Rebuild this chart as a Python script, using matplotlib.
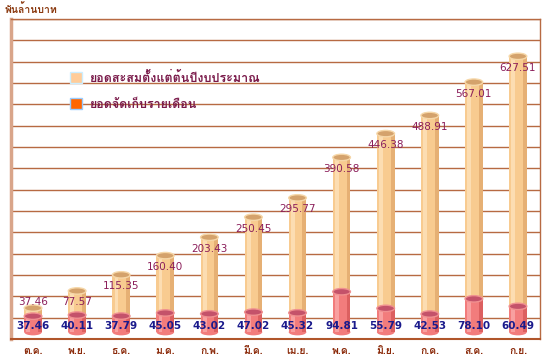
import matplotlib
matplotlib.use("Agg")
import matplotlib.pyplot as plt
from matplotlib.patches import Rectangle, Ellipse, Patch

THAI = ["Loma", "DejaVu Sans"]

months = ["ต.ค.", "พ.ย.", "ธ.ค.", "ม.ค.", "ก.พ.", "มี.ค.",
          "เม.ย.", "พ.ค.", "มิ.ย.", "ก.ค.", "ส.ค.", "ก.ย."]
cumulative = [37.46, 77.57, 115.35, 160.40, 203.43, 250.45,
              295.77, 390.58, 446.38, 488.91, 567.01, 627.51]
monthly = [37.46, 40.11, 37.79, 45.05, 43.02, 47.02,
           45.32, 94.81, 55.79, 42.53, 78.10, 60.49]
legend_labels = ["ยอดสะสมตั้งแต่ต้นปีงบประมาณ", "ยอดจัดเก็บรายเดือน"]
y_unit = "พันล้านบาท"

fig = plt.figure(figsize=(5.5, 3.62), dpi=100)
ax = fig.add_axes([11/550, 23/362, 529/550, 320/362])
ax.set_xlim(-0.5, 11.5)
ax.set_ylim(0, 750)

GRID = "#B76A42"
ax.set_yticks(range(0, 751, 50))
ax.yaxis.grid(True, color=GRID, lw=1.0, zorder=0)
ax.set_axisbelow(True)
ax.tick_params(axis="y", length=0, labelleft=False)
for s in ["top", "right"]:
    ax.spines[s].set_color(GRID)
    ax.spines[s].set_linewidth(1.0)
ax.spines["bottom"].set_color("#B0552A")
ax.spines["bottom"].set_linewidth(1.5)
ax.spines["left"].set_color("#D9A58A")
ax.spines["left"].set_linewidth(2.5)

ax.set_xticks(range(len(months)))
ax.set_xticklabels(months, family=THAI, fontsize=7.5, fontweight="bold",
                   color="#8B2A0A")
ax.tick_params(axis="x", length=0, pad=5)

W = 0.40
EH = 15  # ellipse height in data units


def cylinder(x, bottom, height, body, light, dark, top, rim, z):
    ax.add_patch(Rectangle((x - W/2, bottom), W, height, facecolor=body,
                           edgecolor="none", zorder=z))
    ax.add_patch(Rectangle((x - W/2 + W*0.12, bottom), W*0.22, height,
                           facecolor=light, edgecolor="none", zorder=z + 0.1))
    ax.add_patch(Rectangle((x + W/2 - W*0.22, bottom), W*0.22, height,
                           facecolor=dark, edgecolor="none", zorder=z + 0.1))
    ax.add_patch(Ellipse((x, bottom), W, EH, facecolor=body,
                         edgecolor="none", zorder=z - 0.05))
    ax.add_patch(Ellipse((x, bottom + height), W, EH, facecolor=top,
                         edgecolor=rim, lw=1.0, zorder=z + 0.2))


CREAM_OFF = 35
PINK_OFF = 16
for i, (c, m) in enumerate(zip(cumulative, monthly)):
    cylinder(i, CREAM_OFF, c, "#F8CB90", "#FCDDB2", "#E6B074",
             "#D4A26C", "#F6D7A8", 2)
    cylinder(i, PINK_OFF, m, "#F27C7C", "#F8A0A0", "#DC6060",
             "#C4526A", "#F09090", 3)
    ax.text(i, max(c, 78) + 8, f"{c:.2f}", ha="center", va="center",
            fontsize=7.5, color="#8B1E5A", zorder=5, family="DejaVu Sans")
    ax.text(i, 30, f"{m:.2f}", ha="center", va="center", fontsize=7.5,
            fontweight="bold", color="#1A1A8C", zorder=5,
            family="DejaVu Sans")

handles = [Patch(facecolor="#FFCC99", edgecolor="#CCEEFF", lw=1),
           Patch(facecolor="#FF6600", edgecolor="#99CCFF", lw=1)]
leg = ax.legend(handles, legend_labels, loc="upper left",
                bbox_to_anchor=(0.112, 0.835), frameon=False,
                handlelength=0.95, handleheight=0.95, handletextpad=0.6,
                labelspacing=1.05, borderpad=0, borderaxespad=0,
                prop={"family": THAI, "size": 9, "weight": "bold"})
for t in leg.get_texts():
    t.set_color("#7A1A4A")

fig.text(5/550, 1 - 9/362, y_unit, family=THAI, fontsize=7.5,
         fontweight="bold", color="#8B3A10", va="center", ha="left")

fig.savefig("out.png", dpi=100)
